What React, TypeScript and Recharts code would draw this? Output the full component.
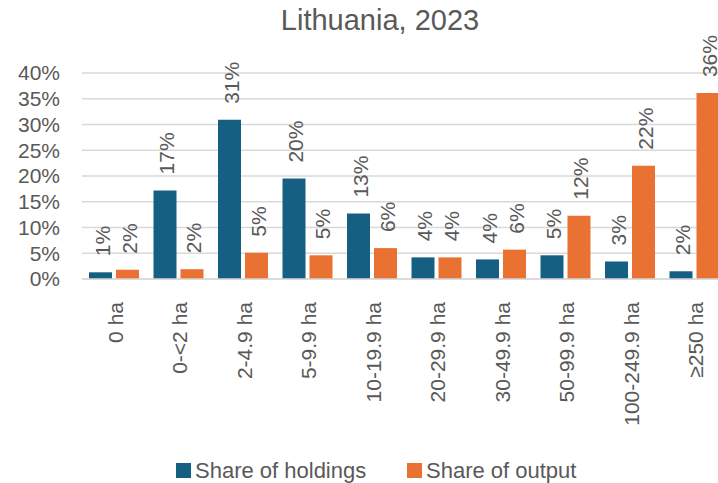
import React from 'react';
import { BarChart, Bar, XAxis, YAxis, CartesianGrid, LabelList } from 'recharts';

const categories = ['0 ha', '0-<2 ha', '2-4.9 ha', '5-9.9 ha', '10-19.9 ha', '20-29.9 ha', '30-49.9 ha', '50-99.9 ha', '100-249.9 ha', '≥250 ha'];
const shareOfHoldings = [1.3, 17.2, 30.9, 19.5, 12.7, 4.2, 3.8, 4.6, 3.4, 1.5];
const shareOfOutput = [1.8, 1.9, 5.1, 4.6, 6.0, 4.2, 5.7, 12.3, 22.0, 36.1];
const yTicks = [0, 5, 10, 15, 20, 25, 30, 35, 40];

const seriesNames = ['Share of holdings', 'Share of output'];
const seriesColors = ['#156082', '#E97132'];

const TEXT = '#595959';
const FONT = '"Liberation Sans", Arial, sans-serif';

const data = categories.map((name, i) => ({
    name,
    holdings: shareOfHoldings[i],
    output: shareOfOutput[i],
}));

const ValueLabel: React.FC<any> = ({ x, y, width, value }) => {
    const cx = Number(x) + Number(width) / 2 + 2;
    const cy = Number(y) - 16;
    return (
        <text
            x={cx}
            y={cy}
            transform={`rotate(-90, ${cx}, ${cy})`}
            textAnchor="start"
            dominantBaseline="central"
            fill={TEXT}
            fontSize={21}
            fontFamily={FONT}
        >
            {Math.round(Number(value))}%
        </text>
    );
};

const CategoryTick: React.FC<any> = ({ x, y, payload }) => {
    const cx = Number(x) + 1;
    const cy = Number(y) + 23;
    return (
        <text
            x={cx}
            y={cy}
            transform={`rotate(-90, ${cx}, ${cy})`}
            textAnchor="end"
            dominantBaseline="central"
            fill={TEXT}
            fontSize={21}
            fontFamily={FONT}
        >
            {payload.value}
        </text>
    );
};

const legendX = [176, 407];

export default function App() {
    return (
        <div style={{ position: 'fixed', left: 0, top: 0, width: 718, height: 483, overflow: 'hidden', background: '#fff' }}>
            <BarChart
                width={760}
                height={483}
                data={data}
                margin={{ top: 73, right: 33, left: 0, bottom: 74 }}
                barSize={23}
                barGap={4}
            >
                <CartesianGrid vertical={false} stroke="#d9d9d9" strokeWidth={1.5} />
                <XAxis
                    dataKey="name"
                    interval={0}
                    height={130}
                    tickLine={false}
                    tickSize={0}
                    tickMargin={0}
                    axisLine={{ stroke: '#d9d9d9', strokeWidth: 1.5 }}
                    tick={<CategoryTick />}
                />
                <YAxis
                    width={82}
                    domain={[0, 40]}
                    ticks={yTicks}
                    interval={0}
                    axisLine={false}
                    tickLine={false}
                    tickSize={0}
                    tickMargin={22}
                    tickFormatter={(v) => `${v}%`}
                    tick={{ fill: TEXT, fontSize: 21, fontFamily: FONT }}
                />
                <Bar dataKey="holdings" name={seriesNames[0]} fill={seriesColors[0]} isAnimationActive={false}>
                    <LabelList dataKey="holdings" content={<ValueLabel />} />
                </Bar>
                <Bar dataKey="output" name={seriesNames[1]} fill={seriesColors[1]} isAnimationActive={false}>
                    <LabelList dataKey="output" content={<ValueLabel />} />
                </Bar>
            </BarChart>
            <svg
                width={718}
                height={483}
                style={{ position: 'absolute', left: 0, top: 0, pointerEvents: 'none' }}
            >
                <text x={380} y={30} textAnchor="middle" fill={TEXT} fontSize={29} fontFamily={FONT}>
                    Lithuania, 2023
                </text>
                {seriesNames.map((s, i) => (
                    <g key={s}>
                        <rect x={legendX[i]} y={463} width={15} height={15} fill={seriesColors[i]} />
                        <text x={legendX[i] + 19} y={478} fill={TEXT} fontSize={22} fontFamily={FONT}>
                            {s}
                        </text>
                    </g>
                ))}
            </svg>
        </div>
    );
}
